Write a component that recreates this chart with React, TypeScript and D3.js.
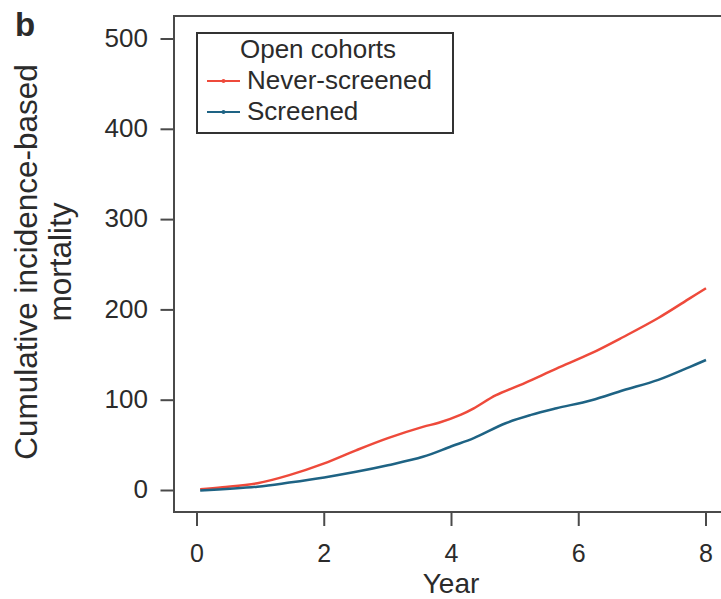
import React from "react";
import * as d3 from "d3";

const xTicks = [0, 2, 4, 6, 8];
const yTicks = [0, 100, 200, 300, 400, 500];

const neverYears = [0.05, 0.4, 0.95, 1.45, 2, 2.5, 3, 3.55, 3.8, 4.15, 4.35, 4.7, 5.15, 5.65, 6.2, 6.7, 7.25, 7.75, 8];
const neverValues = [1.3, 3.5, 8, 17, 30, 44.5, 58, 70.5, 75, 84, 91, 105.5, 119, 135, 152, 170, 191, 213, 224];

const screenedYears = [0.05, 0.95, 1.45, 2, 2.5, 3, 3.55, 4, 4.35, 4.85, 5.25, 5.65, 6.2, 6.7, 7.25, 7.75, 8];
const screenedValues = [0, 4.2, 8.8, 14.5, 20.7, 28, 37.3, 49, 58, 74.5, 83.7, 91, 100, 111, 122.5, 137, 144.5];

const seriesNames = ["Never-screened", "Screened"];
const seriesColors = ["#ee4a3b", "#1e6384"];
const legendTitle = "Open cohorts";

export default function App() {
  const W = 721, H = 599;
  const left = 174, top = 16, bottom = 512;
  const x = d3.scaleLinear().domain([0, 8]).range([197, 706]);
  const y = d3.scaleLinear().domain([0, 500]).range([490.5, 39]);
  const line = d3
    .line<[number, number]>()
    .x((d) => x(d[0]))
    .y((d) => y(d[1]))
    .curve(d3.curveCatmullRom.alpha(0.5));
  const series = [
    neverYears.map((t, i) => [t, neverValues[i]] as [number, number]),
    screenedYears.map((t, i) => [t, screenedValues[i]] as [number, number]),
  ];
  const font = "'Liberation Sans', Arial, Helvetica, sans-serif";
  const txt = "#2b2b2b";
  const axisCol = "#4a4a4a";
  return (
    <svg width={W} height={H} style={{ position: "absolute", left: 0, top: 0, background: "#fff" }} fontFamily={font}>
      <text x={15} y={36} fontSize={33} fontWeight="bold" fill={txt}>b</text>
      {/* plot frame */}
      <path d={`M${W + 10},${top}H${left}V${bottom}H${W + 10}`} fill="none" stroke={axisCol} strokeWidth={2} />
      {/* y ticks */}
      {yTicks.map((t) => (
        <g key={"y" + t}>
          <line x1={160.5} x2={left} y1={y(t)} y2={y(t)} stroke={axisCol} strokeWidth={2} />
          <text x={148} y={y(t)} dy="0.3em" textAnchor="end" fontSize={26} fill={txt}>{t}</text>
        </g>
      ))}
      {/* x ticks */}
      {xTicks.map((t) => (
        <g key={"x" + t}>
          <line x1={x(t)} x2={x(t)} y1={bottom} y2={526} stroke={axisCol} strokeWidth={2} />
          <text x={x(t)} y={561.5} textAnchor="middle" fontSize={25} fill={txt}>{t}</text>
        </g>
      ))}
      <text x={451} y={593} textAnchor="middle" fontSize={28} fill={txt}>Year</text>
      <g transform="translate(37,262) rotate(-90)">
        <text x={0} y={0} textAnchor="middle" fontSize={31.5} fill={txt}>Cumulative incidence-based</text>
        <text x={0} y={34} textAnchor="middle" fontSize={31.5} fill={txt}>mortality</text>
      </g>
      {/* lines */}
      {series.map((s, i) => (
        <path key={"s" + i} d={line(s) || ""} fill="none" stroke={seriesColors[i]} strokeWidth={2.5} />
      ))}
      {/* legend */}
      <rect x={197} y={33} width={256} height={100} fill="#fff" stroke="#333" strokeWidth={2} />
      <text x={318} y={58} textAnchor="middle" fontSize={26} fill={txt}>{legendTitle}</text>
      {seriesNames.map((n, i) => (
        <g key={"l" + i}>
          <line x1={207} x2={240} y1={81 + i * 31} y2={81 + i * 31} stroke={seriesColors[i]} strokeWidth={2} />
          <circle cx={223.5} cy={81 + i * 31} r={2} fill={seriesColors[i]} />
          <text x={247} y={89 + i * 31} fontSize={26} fill={txt}>{n}</text>
        </g>
      ))}
    </svg>
  );
}
